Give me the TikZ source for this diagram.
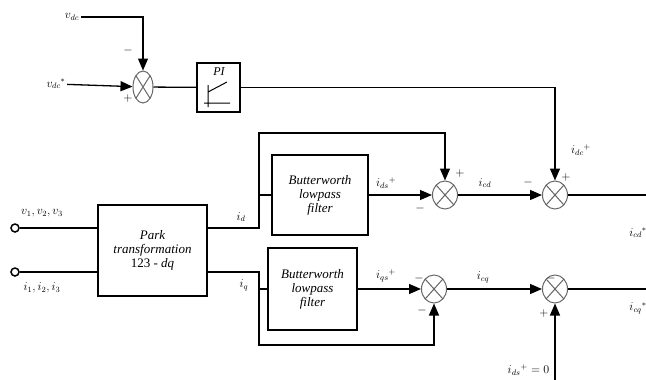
\documentclass[tikz,border=0pt]{standalone}
\usepackage{fontspec}
\setmainfont{Liberation Serif}
\usepackage{tikz}
\usetikzlibrary{arrows.meta,positioning,calc,shapes.geometric}

\begin{document}
\begin{tikzpicture}[x=1pt, y=-1pt, font=\fontsize{12}{13}\selectfont,
  line width=1.3pt, >={Triangle[length=12pt,width=10pt]},
  blk/.style={draw, line width=1.5pt, align=center, inner sep=1pt,
    font=\itshape\fontsize{13}{14}\selectfont},
  sm/.style={ellipse, draw=black!60, line width=1pt, minimum width=25pt,
    minimum height=28pt, inner sep=0pt,
    path picture={\draw[black!60, line width=1pt]
      (path picture bounding box.south west)--(path picture bounding box.north east)
      (path picture bounding box.north west)--(path picture bounding box.south east);}},
  term/.style={circle, draw, line width=1.5pt, minimum size=8pt, inner sep=0pt},
  lab/.style={inner sep=1pt}]
\useasboundingbox (0,0) rectangle (646,380);

% dc bus loop
\node[lab] (vdc)  at (72,17) {$v_{dc}$};
\node[lab] (vref) at (56,84) {$v_{dc}{}^{*}$};
\node[sm, minimum width=20pt, minimum height=32pt] (sdc) at (143,87) {};
\node[blk, minimum width=43pt, minimum height=49pt] (pi) at (218.5,87.5) {};
\node[lab, font=\itshape\fontsize{12}{12}\selectfont] (pilab) at (219,72) {PI};
\draw[line width=1pt] (208,85) -- (208,107) (204,103) -- (230,103) (208,92) -- (227,82);
\draw[->] (vdc) -| (sdc);
\draw[->] (vref) -- (sdc);
\draw (sdc) -- (pi);
\node[lab] (m0) at (128,50) {$-$};
\node[lab] (p0) at (128,98) {$+$};

% park block and inputs
\node[term] (vin) at (15,228) {};
\node[term] (iin) at (15,272) {};
\node[blk, minimum width=109pt, minimum height=91pt] (park) at (152.5,250.5)
  {Park\\transformation\\{\upshape 123 -} \textit{dq}};
\draw (vin) -- (vin -| park.west);
\draw (iin) -- (iin -| park.west);
\node[lab] (vinlab) at (42,213) {$v_1,v_2,v_3$};
\node[lab] (iinlab) at (42,288) {$i_1,i_2,i_3$};

% d axis
\node[blk, minimum width=96pt, minimum height=80pt] (bwd) at (320,195)
  {Butterworth\\lowpass\\filter};
\node[sm] (sd1) at (445,195) {};
\node[sm] (sd2) at (555,195) {};
\coordinate (jd) at (259,195);
\coordinate (td) at (259,133);
\coordinate (od) at (646,195);
\draw (vin -| park.east) -| (jd) -- (bwd);
\draw[->] (jd) -- (td) -| (sd1);
\draw[->] (bwd) -- (sd1);
\draw[->] (sd1) -- (sd2);
\draw[->] (pi) -| (sd2);
\draw (sd2) -- (od);
\node[lab] (idlab) at (241,217) {$i_d$};
\node[lab] (idf) at (386,183) {$i_{ds}{}^{+}$};
\node[lab] (p1) at (460,173) {$+$};
\node[lab] (m1) at (420,208) {$-$};
\node[lab] (icd) at (485,183) {$i_{cd}$};
\node[lab] (m2) at (528,182) {$-$};
\node[lab] (p2) at (566,177) {$+$};
\node[lab] (idc) at (581,150) {$i_{dc}{}^{+}$};
\node[lab] (icdr) at (638,233) {$i_{cd}{}^{*}$};

% q axis
\node[blk, minimum width=89pt, minimum height=82pt] (bwq) at (312.5,289)
  {Butterworth\\lowpass\\filter};
\node[sm] (sq1) at (434,289) {};
\node[sm] (sq2) at (555,289) {};
\coordinate (jq) at (259,289);
\coordinate (bq) at (259,345);
\coordinate (oq) at (646,289);
\coordinate (zq) at (555,380);
\draw (iin -| park.east) -| (jq) -- (bwq);
\draw[->] (jq) -- (bq) -| (sq1);
\draw[->] (bwq) -- (sq1);
\draw[->] (sq1) -- (sq2);
\draw[->] (zq) -- (sq2);
\draw (sq2) -- (oq);
\node[lab] (iqlab) at (244,285) {$i_q$};
\node[lab] (iqf) at (386,276) {$i_{qs}{}^{+}$};
\node[lab] (m3) at (419,278) {$-$};
\node[lab] (m4) at (422,310) {$-$};
\node[lab] (icq) at (483,277) {$i_{cq}$};
\node[lab] (m5) at (551,278) {$-$};
\node[lab] (p5) at (544,313) {$+$};
\node[lab, anchor=east] (zlab) at (551,370) {$i_{ds}{}^{+}=0$};
\node[lab] (icqr) at (638,308) {$i_{cq}{}^{*}$};
\end{tikzpicture}
\end{document}
